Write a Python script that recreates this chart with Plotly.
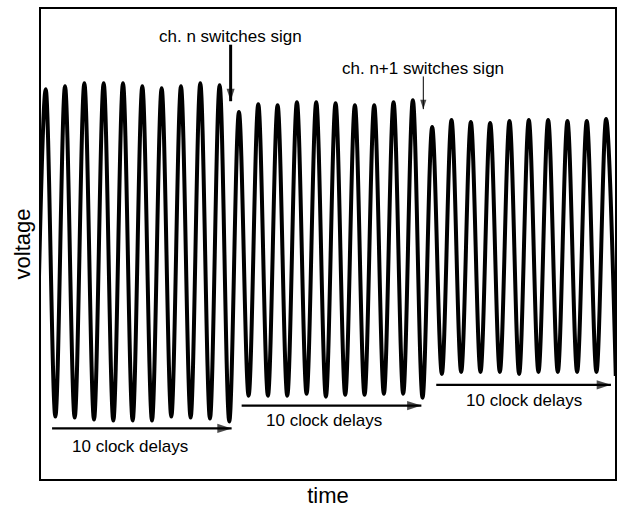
import plotly.graph_objects as go

# Time axis in clock periods: peak k of the waveform sits at t = k,
# troughs halfway between neighbouring peaks.
peak_times = list(range(30))
trough_times = [k - 0.5 for k in range(31)]

# Peak voltages (arbitrary units), ten clock cycles per channel state
peaks_seg1 = [3.94, 3.97, 4.00, 4.00, 4.00, 3.97, 3.95, 3.97, 4.00, 3.98]
peaks_seg2 = [3.71, 3.79, 3.78, 3.81, 3.81, 3.80, 3.78, 3.78, 3.81, 3.83]
peaks_seg3 = [3.56, 3.63, 3.61, 3.60, 3.62, 3.63, 3.63, 3.62, 3.62, 3.64]

# Trough voltages; the first one precedes the visible window
trough_start = [0.62]
troughs_seg1 = [0.64, 0.63, 0.61, 0.60, 0.60, 0.60, 0.64, 0.63, 0.62, 0.59]
troughs_seg2 = [0.85, 0.85, 0.85, 0.87, 0.84, 0.86, 0.86, 0.87, 0.87, 0.83]
troughs_seg3 = [1.07, 1.09, 1.09, 1.09, 1.07, 1.09, 1.09, 1.09, 1.09, 1.05]

peaks = peaks_seg1 + peaks_seg2 + peaks_seg3
troughs = trough_start + troughs_seg1 + troughs_seg2 + troughs_seg3

# Interleave troughs and peaks into one waveform trace
t_wave, v_wave = [], []
for i in range(len(peaks)):
    t_wave += [trough_times[i], peak_times[i]]
    v_wave += [troughs[i], peaks[i]]
t_wave.append(trough_times[-1])
v_wave.append(troughs[-1])

# Horizontal "10 clock delays" arrows: start, end, level, label position
delay_starts = [0.33, 10.14, 20.21]
delay_ends = [9.62, 19.44, 29.25]
delay_levels = [0.52, 0.75, 0.96]
delay_label_t = [4.36, 14.4, 24.73]
delay_label_v = [0.335, 0.595, 0.80]
delay_text = "10 clock delays"

# Sign-switch markers: label, time, arrow top, arrow tip, label level, weight
switch_labels = ["ch. n switches sign", "ch. n+1 switches sign"]
switch_t = [9.57, 19.54]
switch_top = [4.39, 4.07]
switch_tip = [3.82, 3.74]
switch_label_v = [4.47, 4.15]
switch_width = [3, 1]
switch_head = [13, 10]

FONT = "Liberation Sans, Arial, sans-serif"

fig = go.Figure()

fig.add_trace(go.Scatter(
    x=t_wave, y=v_wave, mode="lines",
    line=dict(color="black", width=4, shape="spline", smoothing=1.0),
    hoverinfo="skip", showlegend=False,
))

annotations = []

for s, e, lv, lt, lvv in zip(delay_starts, delay_ends, delay_levels,
                             delay_label_t, delay_label_v):
    fig.add_trace(go.Scatter(
        x=[s, e], y=[lv, lv], mode="lines+markers",
        line=dict(color="black", width=2.2),
        marker=dict(symbol="arrow", size=[0, 15], angle=90, color="black",
                    line=dict(width=0)),
        hoverinfo="skip", showlegend=False,
    ))
    annotations.append(dict(
        x=lt, y=lvv, xref="x", yref="y", text=delay_text, showarrow=False,
        font=dict(family=FONT, size=17, color="black"),
        xanchor="center", yanchor="middle",
    ))

for lab, t, top, tip, lv, w, hs in zip(switch_labels, switch_t, switch_top,
                                       switch_tip, switch_label_v,
                                       switch_width, switch_head):
    fig.add_trace(go.Scatter(
        x=[t, t], y=[top, tip], mode="lines+markers",
        line=dict(color="black", width=w),
        marker=dict(symbol="arrow", size=[0, hs], angle=180, color="black",
                    line=dict(width=0)),
        hoverinfo="skip", showlegend=False,
    ))
    annotations.append(dict(
        x=t, y=lv, xref="x", yref="y", text=lab, showarrow=False,
        font=dict(family=FONT, size=17, color="black"),
        xanchor="center", yanchor="middle",
    ))

axis_common = dict(
    showgrid=False, zeroline=False, showticklabels=False, ticks="",
    showline=True, mirror=True, linecolor="black", linewidth=2,
)

fig.update_layout(
    width=624, height=509,
    margin=dict(l=41, r=8, t=7, b=28),
    paper_bgcolor="white", plot_bgcolor="white",
    xaxis=dict(range=[-0.243, 29.46], title=dict(
        text="time", font=dict(family=FONT, size=22, color="black"),
        standoff=8), **axis_common),
    yaxis=dict(range=[0.01, 4.75], title=dict(
        text="voltage", font=dict(family=FONT, size=22, color="black"),
        standoff=2), **axis_common),
    annotations=annotations,
)

fig.write_html("out.html")
